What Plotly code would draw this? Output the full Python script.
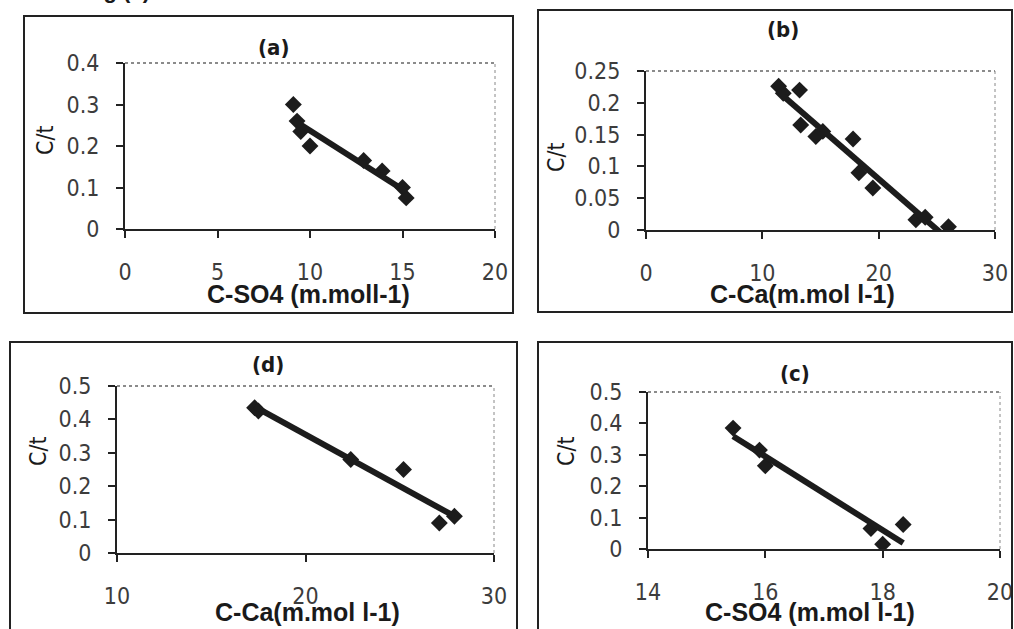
import numpy as np
import plotly.graph_objects as go

# ---------------- data ----------------
a_x = [9.1, 9.3, 9.5, 10.0, 12.9, 13.9, 15.0, 15.2]
a_y = [0.30, 0.26, 0.235, 0.20, 0.165, 0.14, 0.10, 0.075]

b_x = [11.4, 11.8, 13.2, 13.3, 14.6, 15.2, 17.8, 18.3, 19.5, 23.2, 24.0, 26.0]
b_y = [0.226, 0.215, 0.22, 0.165, 0.147, 0.155, 0.143, 0.09, 0.066, 0.016, 0.02, 0.005]

d_x = [17.3, 17.5, 22.4, 25.2, 27.1, 27.9]
d_y = [0.435, 0.425, 0.28, 0.25, 0.09, 0.11]

c_x = [15.45, 15.9, 16.0, 17.8, 18.0, 18.35]
c_y = [0.385, 0.315, 0.265, 0.065, 0.015, 0.078]

panel_titles = ["(a)", "(b)", "(d)", "(c)"]
x_titles = ["C-SO4 (m.moll-1)", "C-Ca(m.mol l-1)", "C-Ca(m.mol l-1)", "C-SO4 (m.mol l-1)"]
y_title = "C/t"
x_ranges = [[0, 20], [0, 30], [10, 30], [14, 20]]
x_dticks = [5, 10, 10, 2]
y_ranges = [[0, 0.4], [0, 0.25], [0, 0.5], [0, 0.5]]
y_dticks = [0.1, 0.05, 0.1, 0.1]

# ---------------- layout helpers ----------------
W, H = 1014, 629
def px_x(p): return p / W
def px_y(p): return 1 - p / H

# plot-area boxes (left, right, top, bottom) in pixels
areas = [(125, 495, 63, 229), (646, 995, 71, 230), (117, 494, 386, 553), (648, 1000, 392, 549)]
# outer frames
frames = [(24, 513, 16, 313), (538, 1012, 10, 312), (10, 517, 342, 640), (538, 1012, 342, 640)]
title_pos = [(273, 47), (783, 30), (268, 364), (795, 373)]
xtitle_pos = [(308, 294), (802, 294), (307, 612), (810, 612)]
ytitle_pos = [(45, 140), (556, 157), (38, 451), (566, 451)]

datasets = [(a_x, a_y), (b_x, b_y), (d_x, d_y), (c_x, c_y)]

NARROW = "Liberation Sans Narrow, DejaVu Sans Condensed, sans-serif"
SANS = "Liberation Sans, Arial, sans-serif"

fig = go.Figure()
shapes = []
annotations = []
tick_font = dict(family=NARROW, size=23, color="#3c3c3c")

def note(text, x, y, font, **kw):
    d = dict(text=text, x=px_x(x), y=px_y(y), xref="paper", yref="paper", showarrow=False,
             xanchor="center", yanchor="middle", font=font)
    d.update(kw)
    annotations.append(d)

for i, ((xs, ys), (l, r, t, b)) in enumerate(zip(datasets, areas)):
    n = "" if i == 0 else str(i + 1)
    xa, ya = "x" + n, "y" + n
    fig.add_trace(go.Scatter(x=xs, y=ys, mode="markers", xaxis=xa, yaxis=ya,
                             marker=dict(symbol="diamond", size=13, color="#1c1c1c"),
                             showlegend=False))
    k, c0 = np.polyfit(xs, ys, 1)
    fx = np.array([min(xs), max(xs)])
    fig.add_trace(go.Scatter(x=fx, y=k * fx + c0, mode="lines", xaxis=xa, yaxis=ya,
                             line=dict(color="#1c1c1c", width=6), showlegend=False))
    axis_common = dict(showgrid=False, zeroline=False, showline=True, linecolor="#222",
                       linewidth=2, ticks="outside", ticklen=7, tickwidth=2, tickcolor="#222",
                       tickfont=tick_font, automargin=False)
    fig.update_layout(**{
        ("xaxis" + n): dict(domain=[px_x(l), px_x(r)], anchor=ya, range=x_ranges[i],
                            dtick=x_dticks[i], tick0=x_ranges[i][0], ticklabelstandoff=14,
                            **axis_common),
        ("yaxis" + n): dict(domain=[px_y(b), px_y(t)], anchor=xa, range=y_ranges[i],
                            dtick=y_dticks[i], ticklabelstandoff=12, **axis_common),
    })
    # dotted top and right plot border
    shapes.append(dict(type="line", xref=xa + " domain", yref=ya + " domain", x0=0, x1=1, y0=1, y1=1,
                       line=dict(color="#666", width=1.5, dash="dot")))
    shapes.append(dict(type="line", xref=xa + " domain", yref=ya + " domain", x0=1, x1=1, y0=0, y1=1,
                       line=dict(color="#888", width=1, dash="dot")))
    fl, fr, ft, fb = frames[i]
    shapes.append(dict(type="rect", xref="paper", yref="paper", x0=px_x(fl), x1=px_x(fr),
                       y0=px_y(fb), y1=px_y(ft), line=dict(color="#222", width=2)))
    note("<b>" + panel_titles[i] + "</b>", *title_pos[i],
         font=dict(family=NARROW, size=22, color="#1a1a1a"))
    note("<b>" + x_titles[i] + "</b>", *xtitle_pos[i],
         font=dict(family=SANS, size=25, color="#1a1a1a"))
    note(y_title, *ytitle_pos[i], font=dict(family=NARROW, size=23, color="#1a1a1a"),
         textangle=-90)

note("<b>Fig.(3)</b>", 117, 5, font=dict(family=SANS, size=22, color="#1a1a1a"),
     yanchor="bottom")

fig.update_layout(width=W, height=H, margin=dict(l=0, r=0, t=0, b=0, pad=0, autoexpand=False),
                  paper_bgcolor="white", plot_bgcolor="white",
                  shapes=shapes, annotations=annotations)
fig.write_html("out.html", config={"displayModeBar": False},
               post_script="document.body.style.margin='0';document.body.style.overflow='hidden';")
